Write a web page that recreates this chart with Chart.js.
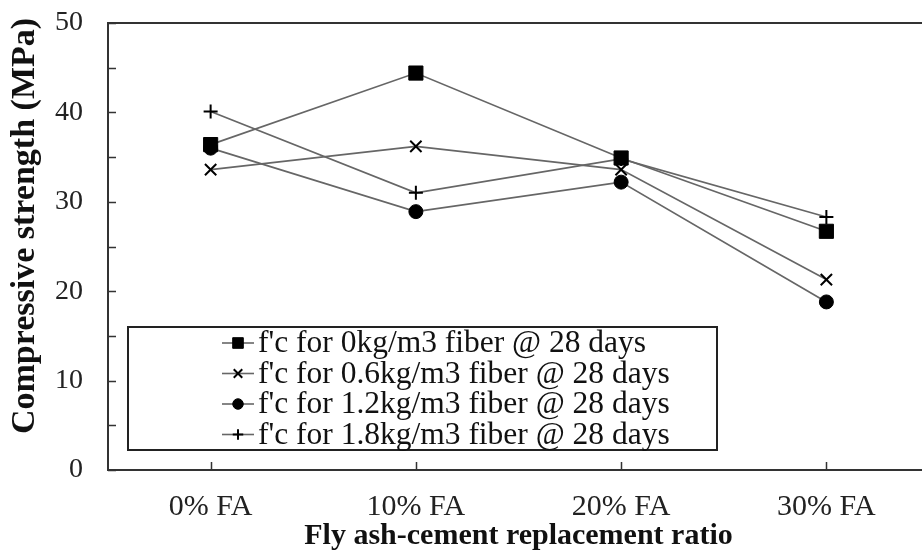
<!DOCTYPE html>
<html>
<head>
<meta charset="utf-8">
<script src="https://cdn.jsdelivr.net/npm/chart.js@4/dist/chart.umd.min.js"></script>
<style>
    html, body { margin: 0; padding: 0; background: #fff; overflow: hidden; }
    #wrap { width: 940px; height: 556px; }
</style>
</head>
<body>
<div id="wrap"><canvas id="fcChart" width="940" height="556"></canvas></div>
<script>
// --- data ---
const categories = ['0% FA', '10% FA', '20% FA', '30% FA'];
const fiber0 = [36.4, 44.4, 34.9, 26.7];
const fiber06 = [33.6, 36.2, 33.6, 21.3];
const fiber12 = [36.0, 28.9, 32.2, 18.8];
const fiber18 = [40.1, 31.0, 34.8, 28.3];
const yTicks = [0, 10, 20, 30, 40, 50];
const seriesLabels = [
    "f'c for 0kg/m3 fiber @ 28 days",
    "f'c for 0.6kg/m3 fiber @ 28 days",
    "f'c for 1.2kg/m3 fiber @ 28 days",
    "f'c for 1.8kg/m3 fiber @ 28 days"
];
const yTitle = 'Compressive strength (MPa)';

const serif = "'Liberation Serif', 'Times New Roman', serif";
const lineColor = '#666';

function series(label, data, style, radius) {
    return {
        label: label,
        data: data,
        borderColor: lineColor,
        borderWidth: 1.7,
        pointStyle: style,
        pointRadius: radius,
        pointBackgroundColor: '#000',
        pointBorderColor: '#000',
        pointBorderWidth: style === 'crossRot' || style === 'cross' ? 2 : 1,
        tension: 0
    };
}

// frame, inside tick marks, y title and the boxed legend
const framePlugin = {
    id: 'frame',
    afterDraw(chart) {
        const ctx = chart.ctx;
        const a = chart.chartArea;
        const y = chart.scales.y;
        const x = chart.scales.x;
        ctx.save();
        ctx.strokeStyle = '#333';
        ctx.lineWidth = 2;
        ctx.strokeRect(a.left, a.top, a.right - a.left, a.bottom - a.top);

        ctx.lineWidth = 1.5;
        ctx.beginPath();
        for (let v = y.min; v <= y.max; v += 5) {
            const py = Math.round(y.getPixelForValue(v)) + 0.5;
            ctx.moveTo(a.left, py);
            ctx.lineTo(a.left + 8, py);
        }
        categories.forEach((c, i) => {
            const px = Math.round(x.getPixelForValue(i)) + 0.5;
            ctx.moveTo(px, a.bottom);
            ctx.lineTo(px, a.bottom - 8);
        });
        ctx.stroke();

        // y axis title
        ctx.save();
        ctx.translate(25, 226);
        ctx.rotate(-Math.PI / 2);
        ctx.font = 'bold 34px ' + serif;
        ctx.fillStyle = '#111';
        ctx.textAlign = 'center';
        ctx.textBaseline = 'middle';
        ctx.fillText(yTitle, 0, 0);
        ctx.restore();

        // legend box
        const bx = 128, by = 327, bw = 589, bh = 123;
        ctx.fillStyle = '#fff';
        ctx.fillRect(bx, by, bw, bh);
        ctx.lineWidth = 2;
        ctx.strokeStyle = '#222';
        ctx.strokeRect(bx, by, bw, bh);

        ctx.font = '31.5px ' + serif;
        ctx.textBaseline = 'middle';
        chart.data.datasets.forEach((ds, i) => {
            const ry = by + 16 + i * 30.5;
            ctx.strokeStyle = lineColor;
            ctx.lineWidth = 1.6;
            ctx.beginPath();
            ctx.moveTo(222, ry);
            ctx.lineTo(254, ry);
            ctx.stroke();
            ctx.fillStyle = '#000';
            ctx.strokeStyle = '#000';
            ctx.lineWidth = ds.pointBorderWidth;
            Chart.helpers.drawPoint(ctx, {
                pointStyle: ds.pointStyle,
                radius: ds.pointRadius * 0.75,
                borderWidth: ds.pointBorderWidth,
                rotation: 0
            }, 238, ry);
            ctx.fillStyle = '#111';
            ctx.fillText(ds.label, 258, ry + 1);
        });
        ctx.restore();
    }
};

new Chart(document.getElementById('fcChart'), {
    type: 'line',
    data: {
        labels: categories,
        datasets: [
            series(seriesLabels[0], fiber0, 'rect', 10),
            series(seriesLabels[1], fiber06, 'crossRot', 8),
            series(seriesLabels[2], fiber12, 'circle', 7),
            series(seriesLabels[3], fiber18, 'cross', 7)
        ]
    },
    options: {
        responsive: false,
        animation: false,
        layout: { padding: { top: 23, right: 8, left: 0, bottom: 0 } },
        plugins: {
            legend: { display: false },
            tooltip: { enabled: false }
        },
        scales: {
            x: {
                offset: true,
                grid: { display: false, drawTicks: false },
                border: { display: false },
                ticks: {
                    padding: 19,
                    color: '#222',
                    font: { family: serif, size: 30 }
                },
                title: {
                    display: true,
                    text: 'Fly ash-cement replacement ratio',
                    color: '#111',
                    padding: { top: 0, bottom: 2 },
                    font: { family: serif, size: 30, weight: 'bold' }
                },
                afterFit(scale) {
                    scale.height = 86;
                    scale.paddingLeft = 0;
                    scale.paddingRight = 0;
                }
            },
            y: {
                min: 0,
                max: 50,
                afterBuildTicks(scale) {
                    scale.ticks = yTicks.map(v => ({ value: v }));
                },
                grid: { display: false, drawTicks: false },
                border: { display: false },
                ticks: {
                    padding: 25,
                    color: '#222',
                    font: { family: serif, size: 28 }
                },
                afterFit(scale) {
                    scale.width = 108;
                    scale.paddingTop = 0;
                    scale.paddingBottom = 0;
                }
            }
        }
    },
    plugins: [framePlugin]
});
</script>
</body>
</html>
